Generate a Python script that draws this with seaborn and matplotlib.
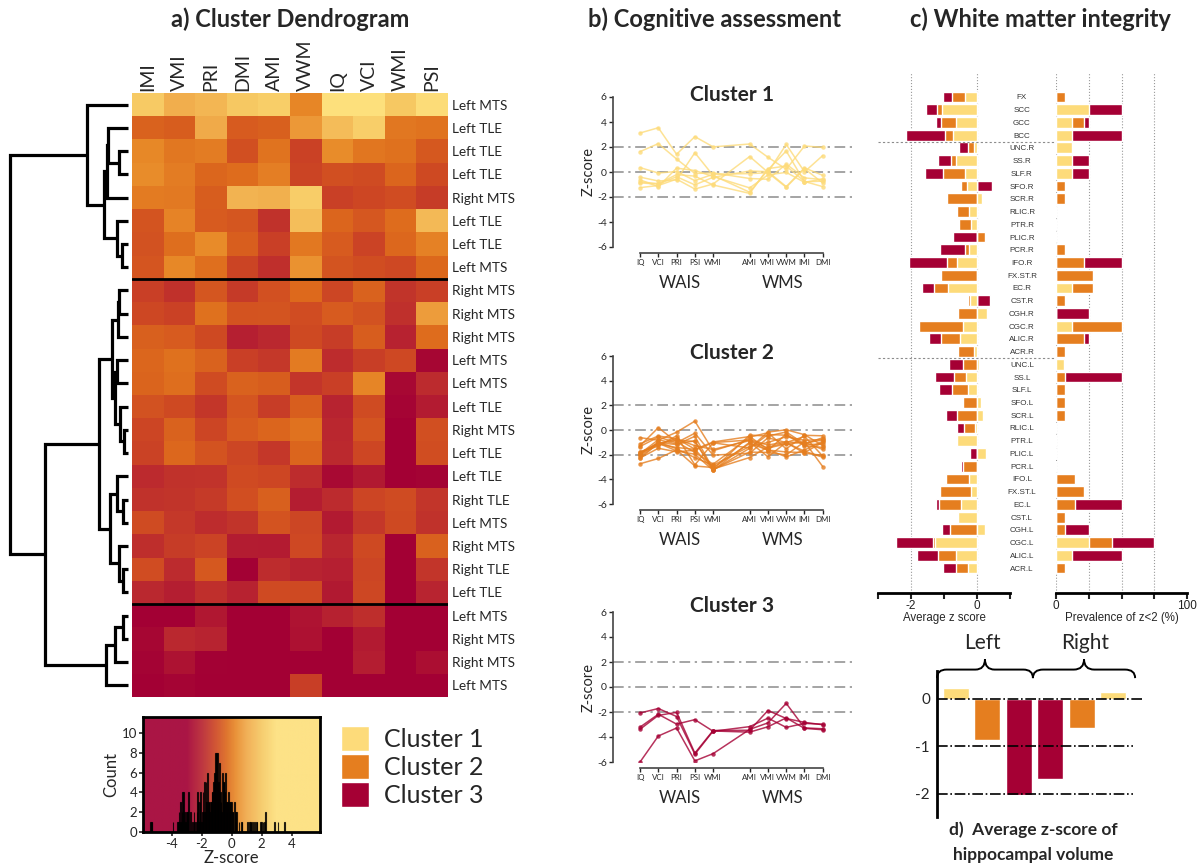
import numpy as np
import pandas as pd
import seaborn as sns
import matplotlib.pyplot as plt
from matplotlib.colors import LinearSegmentedColormap
from matplotlib.patches import Patch, PathPatch
from matplotlib.path import Path

sns.set_style("white")
plt.rcParams['font.family'] = ['Lato', 'DejaVu Sans']
plt.rcParams['axes.unicode_minus'] = False

W, H = 1200, 866

# ---------------- data ----------------
tests = ['IQ', 'VCI', 'PRI', 'PSI', 'WMI', 'AMI', 'VMI', 'VWM', 'IMI', 'DMI']
heat_cols = ['IMI', 'VMI', 'PRI', 'DMI', 'AMI', 'VWM', 'IQ', 'VCI', 'WMI', 'PSI']

patients = ['Left MTS', 'Left TLE', 'Left TLE', 'Left TLE', 'Right MTS', 'Left TLE', 'Left TLE', 'Left MTS',
            'Right MTS', 'Right MTS', 'Right MTS', 'Left MTS', 'Left MTS', 'Left TLE', 'Right MTS',
            'Left TLE', 'Left TLE', 'Right TLE', 'Left MTS', 'Right MTS', 'Right TLE', 'Left TLE',
            'Left MTS', 'Right MTS', 'Right MTS', 'Left MTS']

# z-scores per patient, columns in `tests` order
z_c1 = [[3.12, 3.54, 1.42, 2.83, 2.01, 2.24, 1.18, 0.22, 2.08, 1.97],
        [1.63, 2.27, 1.04, -0.12, -0.07, -0.52, -0.58, 0.63, -0.47, -0.61],
        [0.35, -0.08, 0.04, -0.69, -0.18, -0.13, -0.06, -1.22, 0.27, -0.88],
        [-0.87, -0.97, -0.38, -1.03, -0.42, 0.08, 0.03, -1.17, 0.33, -0.27],
        [-1.25, -1.08, -0.57, -1.36, -0.96, 1.24, -0.02, 2.21, 0.01, 1.32],
        [-0.41, -0.72, -0.63, 1.54, -0.28, -1.62, 0.18, 1.68, -0.79, -0.73],
        [-0.62, -1.18, 0.31, 0.12, -0.36, -1.27, -0.23, -0.03, -0.83, -0.56],
        [-0.79, -0.93, -0.21, -0.33, -1.04, -1.71, 0.27, 0.48, -0.76, -1.17]]
z_c2 = [[-1.12, -0.48, -0.73, -1.27, -1.58, -0.86, -1.66, -0.32, -1.28, -1.41],
        [-0.62, -0.83, -0.18, 0.72, -1.68, -0.78, -1.22, -0.96, -1.06, -0.81],
        [-1.34, -0.57, -1.03, -0.26, -2.04, -1.88, -0.63, -1.02, -0.52, -2.12],
        [-1.76, -1.31, -0.47, -2.83, -1.04, -1.46, -0.17, 0.02, -0.38, -1.27],
        [-1.28, 0.19, -0.97, -1.82, -2.77, -0.58, -0.22, -1.53, -0.43, -0.47],
        [-2.03, -0.98, -1.52, -2.24, -2.86, -1.33, -1.01, -0.54, -0.84, -0.77],
        [-1.92, -0.79, -1.13, -0.88, -3.18, -0.41, -0.49, -0.16, -1.14, -0.62],
        [-1.87, -1.09, -0.82, -0.93, -3.23, -1.48, -0.37, -0.42, -1.21, -1.12],
        [-2.74, -2.31, -1.61, -2.92, -3.04, -1.08, -1.63, -1.78, -1.83, -0.99],
        [-1.81, -1.13, -1.42, -1.57, -0.97, -0.53, -1.59, -2.18, -1.62, -0.91],
        [-2.27, -1.48, -1.77, -1.64, -1.02, -0.81, -1.47, -1.12, -0.98, -1.58],
        [-1.94, -1.03, -1.18, -0.51, -3.16, -2.23, -1.38, -1.04, -1.72, -2.21],
        [-2.12, -1.14, -0.68, -1.56, -3.21, -1.79, -1.82, -2.02, -0.96, -2.97],
        [-2.31, -1.07, -1.69, -1.97, -3.27, -0.99, -2.17, -1.01, -1.88, -2.06]]
z_c3 = [[-2.08, -1.72, -2.36, -5.38, -3.52, -3.61, -3.18, -2.47, -3.31, -3.42],
        [-3.38, -2.27, -2.03, -5.29, -3.48, -3.46, -1.88, -2.52, -2.83, -3.02],
        [-3.21, -2.18, -2.97, -2.61, -3.54, -3.17, -2.49, -3.23, -2.91, -2.98],
        [-6.0, -3.92, -3.28, -5.91, -5.33, -3.39, -2.87, -1.31, -3.27, -3.34]]

# hierarchical merges (left node, right node, height); leaves 0-25, merges numbered from 26
linkage = [(2, 3, 9.0), (1, 26, 19.7), (27, 4, 21.3), (6, 7, 6.3), (5, 29, 10.7),
           (28, 30, 23.7), (0, 31, 40.7),
           (8, 9, 9.0), (33, 10, 10.0), (11, 12, 11.3), (14, 15, 4.0), (13, 36, 8.0),
           (35, 37, 13.0), (34, 38, 16.3), (17, 18, 4.7), (16, 40, 11.3), (20, 21, 4.7),
           (19, 42, 9.0), (41, 43, 18.0), (39, 44, 29.0),
           (22, 23, 4.7), (46, 24, 13.0), (47, 25, 22.0),
           (45, 48, 83.0), (32, 49, 118.0)]

tracts = ['FX', 'SCC', 'GCC', 'BCC', 'UNC.R', 'SS.R', 'SLF.R', 'SFO.R', 'SCR.R', 'RLIC.R', 'PTR.R',
          'PLIC.R', 'PCR.R', 'IFO.R', 'FX.ST.R', 'EC.R', 'CST.R', 'CGH.R', 'CGC.R', 'ALIC.R', 'ACR.R',
          'UNC.L', 'SS.L', 'SLF.L', 'SFO.L', 'SCR.L', 'RLIC.L', 'PTR.L', 'PLIC.L', 'PCR.L', 'IFO.L',
          'FX.ST.L', 'EC.L', 'CST.L', 'CGH.L', 'CGC.L', 'ALIC.L', 'ACR.L']
wm_z_c1 = [-0.36, -1.06, -0.63, -0.73, -0.10, -0.65, -0.35, -0.29, 0.15, -0.24, -0.19,
           0.0, -0.24, -0.61, 0.0, -0.88, -0.20, 0.30, -0.43, -0.53, -0.10,
           0.06, -0.32, -0.27, 0.11, 0.18, -0.07, -0.61, 0.26, 0.03, -0.24,
           -0.17, -0.48, -0.58, 0.25, -1.26, -0.65, -0.27]
wm_z_c2 = [-0.75, -1.21, -1.10, -0.98, -0.27, -0.78, -1.02, -0.48, -0.90, -0.60, -0.56,
           0.25, -0.36, -0.90, -1.09, -1.29, -0.27, -0.58, -1.77, -1.10, -0.58,
           -0.41, -0.70, -0.75, -0.41, -0.61, -0.38, -0.45, 0.0, -0.41, -0.95,
           -1.12, -1.16, -0.40, -0.83, -1.32, -1.19, -0.65]
wm_z_c3 = [-1.02, -1.54, -1.24, -2.15, -0.56, -1.19, -1.59, 0.44, -0.50, -0.30, -0.30,
           -0.73, -1.12, -2.07, -0.95, -1.66, 0.39, -0.40, -1.20, -1.46, -0.40,
           -0.85, -1.27, -1.14, -0.30, -0.93, -0.61, -0.30, -0.20, -0.48, -0.70,
           -0.80, -1.24, 0.04, -1.06, -2.44, -1.82, -1.04]
wm_prev_c1 = [0, 25, 12.5, 12.5, 12.5, 12.5, 12.5, 0, 0, 0, 0,
              0, 0, 0, 0, 12.5, 0, 0, 12.5, 0, 0,
              6, 0, 0, 0, 0, 0, 0, 0, 0, 0,
              0, 0, 0, 0, 25, 12.5, 0]
wm_prev_c2 = [7.1, 0, 21.4, 0, 0, 0, 0, 7.1, 7.1, 0, 0,
              0, 7.1, 21.4, 28.6, 28.6, 7.1, 0, 50, 21.4, 7.1,
              0, 7.1, 7.1, 7.1, 7.1, 0, 0, 0, 0, 14.3,
              21.4, 14.3, 7.1, 7.1, 42.9, 0, 7.1]
wm_prev_c3 = [0, 50, 25, 50, 0, 25, 25, 0, 0, 0, 0,
              0, 0, 50, 0, 0, 0, 25, 0, 25, 0,
              0, 50, 0, 0, 0, 0, 0, 0, 0, 0,
              0, 50, 0, 25, 75, 50, 0]

hippo_bars = ['Left C1', 'Left C2', 'Left C3', 'Right C3', 'Right C2', 'Right C1']
hippo_cluster = [1, 2, 3, 3, 2, 1]
hippo_z = [0.23, -0.87, -2.03, -1.69, -0.61, 0.15]

# ---------------- style ----------------
cl_col = {1: '#FDDB7A', 2: '#E57E1F', 3: '#A50034'}
zmap = LinearSegmentedColormap.from_list('zscore', [
    (0.0, '#A30034'), (1 / 6, '#B82430'), (2 / 6, '#CF4A22'), (2.7 / 6, '#DD6A1C'),
    (3.3 / 6, '#E88A28'), (4 / 6, '#F0A848'), (5 / 6, '#F6C862'), (1.0, '#FDE07C')])


def box(l, t, r, b):
    return [l / W, 1 - b / H, (r - l) / W, (b - t) / H]


fig = plt.figure(figsize=(12, 8.66), dpi=100)

# ---------------- a) heatmap + dendrogram ----------------
z_all = np.array(z_c1 + z_c2 + z_c3)
heat_df = pd.DataFrame(z_all, columns=tests)[heat_cols]

ax_hm = fig.add_axes(box(132, 93, 448, 697))
sns.heatmap(heat_df, cmap=zmap, vmin=-3, vmax=3, cbar=False, ax=ax_hm,
            xticklabels=heat_cols, yticklabels=patients)
ax_hm.xaxis.tick_top()
ax_hm.yaxis.tick_right()
ax_hm.tick_params(axis='x', length=0, pad=1.5)
ax_hm.tick_params(axis='y', length=0, pad=3)
plt.setp(ax_hm.get_xticklabels(), rotation=90, fontsize=14, va='bottom')
plt.setp(ax_hm.get_yticklabels(), rotation=0, fontsize=9.8)
for yb in (len(z_c1), len(z_c1) + len(z_c2)):
    ax_hm.axhline(yb, color='black', lw=2)

ax_dn = fig.add_axes(box(8, 93, 130, 697))
n_leaf = len(patients)
node = {i: (i + 0.5, 0.0) for i in range(n_leaf)}
for k, (a, b, h) in enumerate(linkage):
    ya, ha = node[a]
    yb, hb = node[b]
    ax_dn.plot([ha, h, h, hb], [ya, ya, yb, yb], color='black', lw=2.3,
               solid_joinstyle='miter', solid_capstyle='butt')
    node[n_leaf + k] = ((ya + yb) / 2, h)
ax_dn.set_xlim(120, -2)
ax_dn.set_ylim(n_leaf, 0)
ax_dn.axis('off')

fig.text(290 / W, 1 - 19 / H, 'a) Cluster Dendrogram', ha='center', va='center',
         fontsize=17, fontweight='bold')

# histogram key
ax_h = fig.add_axes(box(143, 717, 320, 832))
sns.histplot(x=z_all.ravel(), binwidth=0.05, binrange=(-6.025, 3.625), color='black', ax=ax_h)
top = max(11.6, max(p.get_height() for p in ax_h.patches) + 0.6)
for p in ax_h.patches:
    p.set_facecolor((0, 0, 0, 0.22))
    p.set_edgecolor((0, 0, 0, 0.85))
    p.set_linewidth(0.8)
    p.set_zorder(2)
ax_h.imshow(np.linspace(-5.9, 5.9, 300)[None, :], extent=(-5.9, 5.9, 0, top), aspect='auto',
            cmap=zmap, vmin=-3, vmax=3, alpha=0.92, zorder=0)
ax_h.set_xlim(-5.9, 5.9)
ax_h.set_ylim(0, top)
ax_h.set_xticks([-4, -2, 0, 2, 4])
ax_h.set_yticks([0, 2, 4, 6, 8, 10])
ax_h.tick_params(labelsize=9.5, length=3, width=1.2, direction='out', bottom=True, left=True, pad=1)
ax_h.set_xlabel('Z-score', fontsize=12, labelpad=0)
ax_h.set_ylabel('Count', fontsize=12, labelpad=2)
for s in ax_h.spines.values():
    s.set_linewidth(2)
    s.set_color('black')

handles = [Patch(facecolor=cl_col[c], edgecolor='white', lw=1) for c in (1, 2, 3)]
fig.legend(handles, ['Cluster 1', 'Cluster 2', 'Cluster 3'], loc='upper left',
           bbox_to_anchor=(341 / W, 1 - 726 / H), frameon=False, fontsize=18,
           handlelength=1.1, handleheight=1.15, labelspacing=0.12, handletextpad=0.6,
           borderpad=0, borderaxespad=0)

# ---------------- b) cognitive assessment ----------------
fig.text(715 / W, 1 - 19 / H, 'b) Cognitive assessment', ha='center', va='center',
         fontsize=17, fontweight='bold')
xpos = [i + (1 if i >= 5 else 0) for i in range(len(tests))]
panels = [(z_c1, 1, (97, 247), 95), (z_c2, 2, (356, 504), 353), (z_c3, 3, (612, 762), 606)]
for z, cl, (t, b), ty in panels:
    ax = fig.add_axes(box(613, t, 852, b))
    long = pd.DataFrame([dict(subject=s, pos=xpos[i], z=v)
                         for s, row in enumerate(z) for i, v in enumerate(row)])
    for yl in (-2, 0, 2):
        ax.axhline(yl, color='#8c8c8c', lw=1.1, ls=(0, (7, 3, 1.5, 3)), zorder=0)
    sns.lineplot(data=long, x='pos', y='z', units='subject', estimator=None, color=cl_col[cl],
                 marker='o', markersize=3.2, markeredgewidth=0, lw=1.1, alpha=0.8,
                 legend=False, ax=ax)
    ax.set_xlim(-1.48, 11.6)
    ax.set_ylim(-6, 6)
    ax.set_yticks([-6, -4, -2, 0, 2, 4, 6])
    ax.set_xticks(xpos)
    ax.set_xticklabels(tests)
    ax.tick_params(axis='x', labelsize=5.7, length=3, width=1, bottom=True, pad=1.5)
    ax.tick_params(axis='y', labelsize=7.5, length=3, width=1, left=True, pad=1.5)
    ax.set_xlabel('')
    ax.set_ylabel('Z-score', fontsize=10.5, labelpad=1)
    sns.despine(ax=ax)
    ax.spines['bottom'].set_position(('outward', 4.3))
    ax.spines['bottom'].set_bounds(0, 10)
    for s in ('left', 'bottom'):
        ax.spines[s].set_color('#444444')
        ax.spines[s].set_linewidth(1.2)
    off = -36 / (b - t)
    ax.text(2.2, off, 'WAIS', transform=ax.get_xaxis_transform(), ha='center', va='center',
            fontsize=12)
    ax.text(7.8, off, 'WMS', transform=ax.get_xaxis_transform(), ha='center', va='center',
            fontsize=12)
    fig.text(732 / W, 1 - ty / H, f'Cluster {cl}', ha='center', va='center', fontsize=15,
             fontweight='bold')

# ---------------- c) white matter integrity ----------------
fig.text(1040 / W, 1 - 19 / H, 'c) White matter integrity', ha='center', va='center',
         fontsize=17, fontweight='bold')
ax_l = fig.add_axes(box(878, 72, 1010, 593))
ax_r = fig.add_axes(box(1056, 72, 1187, 593))
for vals_l, vals_r, cl in [(wm_z_c3, wm_prev_c3, 3), (wm_z_c2, wm_prev_c2, 2), (wm_z_c1, wm_prev_c1, 1)]:
    sns.barplot(x=vals_l, y=tracts, orient='h', color=cl_col[cl], saturation=1, width=0.85,
                errorbar=None, ax=ax_l)
    sns.barplot(x=vals_r, y=tracts, orient='h', color=cl_col[cl], saturation=1, width=0.85,
                errorbar=None, ax=ax_r)
nt = len(tracts)
for ax, xl, grid, ticks, labs, xlab in [
        (ax_l, (-3, 1), (-2, 0), [-3, -2, -1, 0, 1], ['', '-2', '', '0', ''], 'Average z score'),
        (ax_r, (0, 100), (0, 25, 50, 75), [0, 25, 50, 75, 100], ['0', '', '', '', '100'],
         'Prevalence of z<2 (%)')]:
    for g in grid:
        ax.axvline(g, color='#9a9a9a', lw=0.8, ls=':', zorder=0)
    ax.set_xlim(*xl)
    ax.set_ylim(nt + 0.96, -1.96)
    ax.set_xticks(ticks)
    ax.set_xticklabels(labs, family=['Liberation Sans', 'DejaVu Sans'], fontsize=8.5)
    ax.set_xlabel(xlab, family=['Liberation Sans', 'DejaVu Sans'], fontsize=8.3, labelpad=0)
    ax.set_ylabel('')
    ax.tick_params(axis='x', length=4, width=1.5, bottom=True, pad=1, colors='#222222')
    sns.despine(ax=ax, left=True)
    ax.spines['bottom'].set_linewidth(2)
    ax.spines['bottom'].set_color('black')
ax_l.set_yticks([])
ax_r.set_yticks(range(nt))
ax_r.set_yticklabels(tracts, fontsize=5.8, family=['Liberation Sans', 'DejaVu Sans'], ha='center',
                     color='#333333')
ax_r.tick_params(axis='y', length=0, pad=24.5)
for ysep in (3.5, 20.5):
    ax_l.axhline(ysep, xmin=0, xmax=(1162 - 878) / (1010 - 878), color='#8c8c8c', lw=0.8,
                 ls=(0, (2, 2)), clip_on=False)

# ---------------- d) hippocampal volume ----------------
ax_d = fig.add_axes(box(937, 671, 1143, 817))
sns.barplot(x=hippo_bars, y=hippo_z, hue=hippo_bars, palette=[cl_col[c] for c in hippo_cluster],
            saturation=1, width=0.83, legend=False, ax=ax_d)
ax_d.axhline(0, color='black', lw=1.2, ls='-.', zorder=3)
for yl in (-1, -2):
    ax_d.axhline(yl, xmax=0.95, color='black', lw=1.2, ls='-.', zorder=3)
ax_d.set_xlim(-0.6, 5.95)
ax_d.set_ylim(-2.49, 0.59)
ax_d.set_yticks([0, -1, -2])
ax_d.set_xticks([])
ax_d.set_ylabel('')
ax_d.tick_params(axis='y', labelsize=11, length=0, pad=5)
sns.despine(ax=ax_d, bottom=True)
ax_d.spines['left'].set_linewidth(2)
ax_d.spines['left'].set_color('black')


def curly_brace(ax, x0, x1, y0, h, lw=1.4):
    xm = (x0 + x1) / 2
    r = (x1 - x0) * 0.1
    ym = y0 + h * 0.45
    verts = [(x0, y0), (x0, ym), (x0 + r, ym), (xm - r, ym), (xm, ym), (xm, y0 + h),
             (xm, ym), (xm + r, ym), (x1 - r, ym), (x1, ym), (x1, y0)]
    codes = [Path.MOVETO, Path.CURVE3, Path.CURVE3, Path.LINETO, Path.CURVE3, Path.CURVE3,
             Path.CURVE3, Path.CURVE3, Path.LINETO, Path.CURVE3, Path.CURVE3]
    ax.add_patch(PathPatch(Path(verts, codes), facecolor='none', edgecolor='black', lw=lw,
                           clip_on=False))


curly_brace(ax_d, -0.6, 2.45, 0.44, 0.40)
curly_brace(ax_d, 2.45, 5.7, 0.44, 0.40)
ax_d.text(0.86, 1.18, 'Left', ha='center', va='center', fontsize=15)
ax_d.text(4.1, 1.18, 'Right', ha='center', va='center', fontsize=15)
fig.text(1033 / W, 1 - 830 / H, 'd)  Average z-score of', ha='center', va='center',
         fontsize=12.5, fontweight='bold')
fig.text(1033 / W, 1 - 855 / H, 'hippocampal volume', ha='center', va='center',
         fontsize=12.5, fontweight='bold')

fig.savefig('out.png', dpi=100)
